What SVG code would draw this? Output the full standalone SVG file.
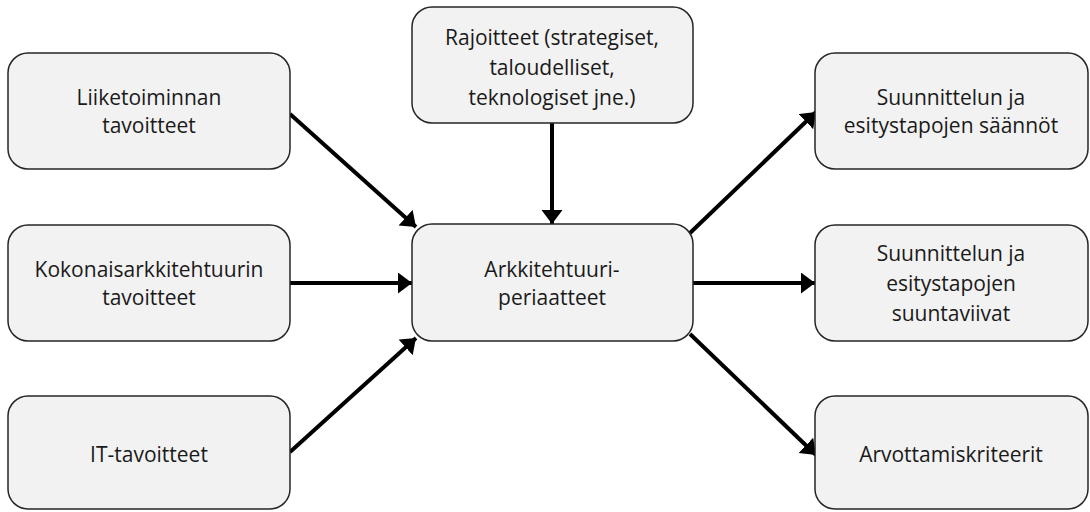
<svg xmlns="http://www.w3.org/2000/svg" width="1090" height="512" viewBox="0 0 1090 512">
  <style>
    .box { fill: #f2f2f2; stroke: #262626; stroke-width: 1.5; }
    .lbl { font-family: "Open Sans", "Liberation Sans", sans-serif; font-size: 21px; fill: #1a1a1a; text-anchor: middle; }
    .arrow { stroke: #000; stroke-width: 4; fill: none; marker-end: url(#head); }
  </style>
  <defs>
    <!-- short, wide filled arrowhead -->
    <marker id="head" markerUnits="userSpaceOnUse" markerWidth="16" markerHeight="22" refX="14" refY="10.5" orient="auto" viewBox="0 0 16 22">
      <path d="M0,0 L14,10.5 L0,21 Z" fill="#000"/>
    </marker>
  </defs>

  <g id="connectors">
    <line class="arrow" x1="290" y1="114" x2="416" y2="227"/>
    <line class="arrow" x1="290" y1="283" x2="412" y2="283"/>
    <line class="arrow" x1="290" y1="452" x2="416" y2="338"/>
    <line class="arrow" x1="552" y1="123" x2="552" y2="224"/>
    <line class="arrow" x1="690" y1="233" x2="816" y2="112"/>
    <line class="arrow" x1="693" y1="283" x2="815" y2="283"/>
    <line class="arrow" x1="690" y1="334" x2="816" y2="455"/>
  </g>

  <g id="liiketoiminta">
    <rect class="box" x="8" y="53" width="282" height="116" rx="20"/>
    <text class="lbl" x="149" y="105">Liiketoiminnan</text>
    <text class="lbl" x="149" y="133">tavoitteet</text>
  </g>

  <g id="kokonaisarkkitehtuuri">
    <rect class="box" x="8" y="225" width="282" height="116" rx="20"/>
    <text class="lbl" x="149" y="277">Kokonaisarkkitehtuurin</text>
    <text class="lbl" x="149" y="305">tavoitteet</text>
  </g>

  <g id="it">
    <rect class="box" x="8" y="396" width="282" height="113" rx="20"/>
    <text class="lbl" x="149" y="462">IT-tavoitteet</text>
  </g>

  <g id="rajoitteet">
    <rect class="box" x="412" y="7" width="281" height="116" rx="20"/>
    <text class="lbl" x="552" y="45">Rajoitteet (strategiset,</text>
    <text class="lbl" x="552" y="75">taloudelliset,</text>
    <text class="lbl" x="552" y="105">teknologiset jne.)</text>
  </g>

  <g id="periaatteet">
    <rect class="box" x="412" y="224" width="281" height="117" rx="20"/>
    <text class="lbl" x="552" y="277">Arkkitehtuuri-</text>
    <text class="lbl" x="552" y="305">periaatteet</text>
  </g>

  <g id="saannot">
    <rect class="box" x="815" y="53" width="273" height="116" rx="20"/>
    <text class="lbl" x="951" y="105">Suunnittelun ja</text>
    <text class="lbl" x="951" y="133">esitystapojen säännöt</text>
  </g>

  <g id="suuntaviivat">
    <rect class="box" x="815" y="225" width="273" height="116" rx="20"/>
    <text class="lbl" x="951" y="261">Suunnittelun ja</text>
    <text class="lbl" x="951" y="291">esitystapojen</text>
    <text class="lbl" x="951" y="321">suuntaviivat</text>
  </g>

  <g id="arvottamiskriteerit">
    <rect class="box" x="815" y="396" width="273" height="113" rx="20"/>
    <text class="lbl" x="951" y="462">Arvottamiskriteerit</text>
  </g>
</svg>
